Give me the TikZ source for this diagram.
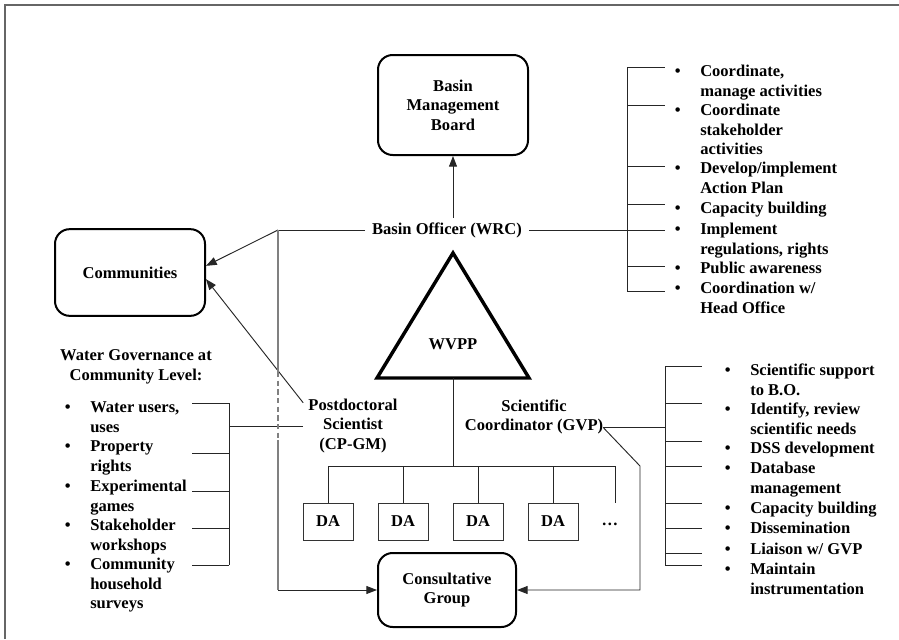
\documentclass[tikz,border=0pt]{standalone}
\usepackage{fontspec}
\setmainfont{Liberation Serif}
\usetikzlibrary{arrows.meta}
\newcommand\dfont{\fontsize{12.4}{14.6}\selectfont\bfseries}

\begin{document}
\begin{tikzpicture}[x=0.75pt,y=-0.75pt,
  font=\dfont,
  link/.style={line width=0.7pt, draw=black!85},
  glink/.style={line width=0.8pt, draw=black!50},
  arr/.style={link, -{Triangle[length=8pt,width=6pt]}},
  rbox/.style={draw, line width=1.5pt, rounded corners=11pt, align=center},
  dabox/.style={draw=black!80, line width=0.7pt, minimum width=37.5pt,
    minimum height=27.75pt, inner sep=0pt},
  txt/.style={align=center, inner sep=0pt},
  bulletmark/.style={anchor=north east, inner sep=0pt, xshift=-14.3pt},
  listitem/.style={anchor=north west, inner sep=0pt, align=left,
    label={[bulletmark]north west:\strut\textbullet}}]
\useasboundingbox (0,0) rectangle (899,639);
\draw[black!60, line width=1.3pt] (5,639) -- (5,5) -- (899,5);

% boxes
\node[rbox, minimum width=112.5pt, minimum height=75pt] (bmb) at (453,105) {Basin\\Management\\Board};
\node[rbox, minimum width=112.5pt, minimum height=65pt] (comm) at (130,272.5) {Communities};
\node[rbox, minimum width=103.5pt, minimum height=55.5pt] (cg) at (447,590) {Consultative\\Group};

% the WVPP triangle
\draw[line width=2.6pt, line join=miter] (453,253) -- (377,378) -- (529,378) -- cycle;
\node[txt] (wvpp) at (453,344) {WVPP};
\coordinate (wvppbase) at (453,378);

% roles
\node[txt, inner xsep=5pt, inner ysep=3pt] (bo) at (447,230) {Basin Officer (WRC)};
\node[txt, inner xsep=3.75pt] (pd) at (353,426) {Postdoctoral\\Scientist\\(CP-GM)};
\node[txt] (sc) at (534,417) {Scientific\\Coordinator (GVP)};
\node[txt] (wgc) at (136,367) {Water Governance at\\Community Level:};

% DAs
\foreach \k/\xx in {1/328,2/403,3/478,4/553}
  \node[dabox] (da\k) at (\xx,521.5) {DA};
\node[txt] (more) at (610,524) {\ldots};

% task lists
\foreach \k/\yy/\words in {1/63/{Coordinate,\\manage activities},
    2/102/{Coordinate\\stakeholder\\activities},
    3/160/{Develop/implement\\Action Plan},
    4/200/{Capacity building},
    5/221/{Implement\\regulations, rights},
    6/260/{Public awareness},
    7/280/{Coordination w/\\Head Office}}
  \node[listitem] (bot\k) at (700,\yy) {\strut\words};
\foreach \k/\yy/\words in {1/362/{Scientific support\\to B.O.},
    2/401/{Identify, review\\scientific needs},
    3/440/{DSS development},
    4/460/{Database\\management},
    5/500/{Capacity building},
    6/520/{Dissemination},
    7/541/{Liaison w/ GVP},
    8/561/{Maintain\\instrumentation}}
  \node[listitem] (sct\k) at (750,\yy) {\strut\words};
\foreach \k/\yy/\words in {1/399/{Water users,\\uses},
    2/438/{Property\\rights},
    3/478/{Experimental\\games},
    4/517/{Stakeholder\\workshops},
    5/556/{Community\\household\\surveys}}
  \node[listitem] (wgt\k) at (90,\yy) {\strut\words};

% brackets
\draw[link] (627,67) -- (627,291);
\foreach \yy in {67,105,166,204,266,291} \draw[link] (627,\yy) -- (665,\yy);
\draw[link] (665,366) -- (665,565);
\foreach \yy in {366,403,441,466,503,528,553,565} \draw[link] (665,\yy) -- (702,\yy);
\draw[link] (229,403) -- (229,565);
\foreach \yy in {403,453,491,528,565} \draw[link] (192,\yy) -- (229,\yy);

% connectors
\coordinate (botjoin) at (665,230);
\coordinate (scjoin) at (665,428);
\coordinate (lbjoin) at (229,428);
\coordinate (bojoin) at (278,230);
\coordinate (dashtop) at (278,372);
\coordinate (dashbot) at (278,440);
\coordinate (scbend) at (640,466);
\coordinate (bus) at (453,466);
\coordinate (busend) at (615,466);

\draw[arr] (bmb.south |- bo.north) -- (bmb.south);
\draw[link] (bo.east) -- (bo.east -| botjoin);
\draw[link] (bo.west) -- (bojoin);
\draw[arr] (bojoin) -- ([yshift=5pt]comm.east);
\draw[arr] ([yshift=-3pt]pd.north west) -- ([yshift=-5pt]comm.east);
\draw[link] (pd.west) -- (pd.west -| lbjoin);
\draw[glink] (bojoin) -- (dashtop);
\draw[glink, dash pattern=on 4pt off 2.5pt] (dashtop) -- (dashbot);
\draw[glink] (dashbot) -- (dashbot |- cg.west) coordinate (cgturn);
\draw[arr] (cgturn) -- (cg.west);
\draw[link] ([yshift=-8pt]sc.east) coordinate (scout) -- (scout -| scjoin);
\draw[arr] (scout) -- (scbend) |- (cg.east);
\draw[link] (wvppbase) -- (bus);
\draw[link] (da1.north) |- (busend) -- (busend |- da1.north);
\foreach \k in {2,3,4} \draw[link] (da\k.north) -- (da\k.north |- bus);
\end{tikzpicture}
\end{document}
